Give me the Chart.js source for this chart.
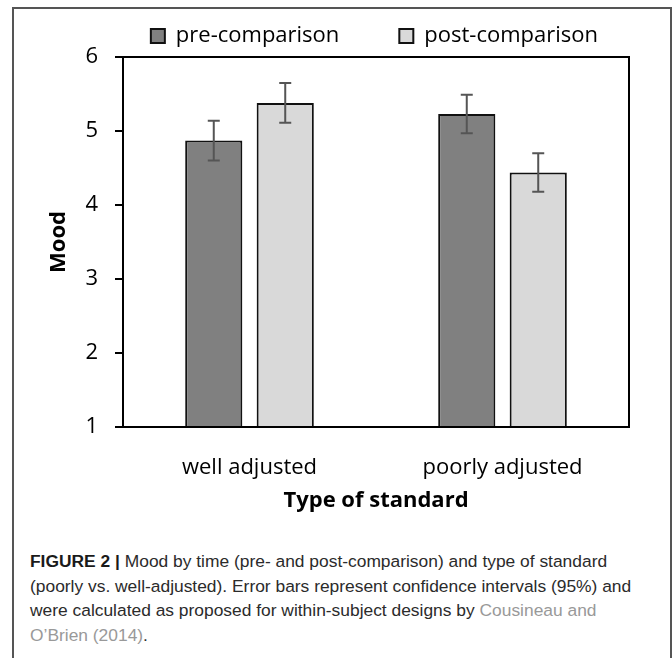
<!DOCTYPE html>
<html>
<head>
<meta charset="utf-8">
<script src="https://cdn.jsdelivr.net/npm/chart.js@4"></script>
<style>
  html, body { margin: 0; padding: 0; width: 672px; height: 658px; overflow: hidden; background: #fff; }
  #frame { position: absolute; left: 12px; top: 7px; width: 656px; height: 700px; border: 2px solid #555; }
  #wrap { position: absolute; left: 0; top: -35px; width: 672px; height: 554px; }
  #caption {
    position: absolute; left: 30px; top: 549px; white-space: nowrap;
    font-family: "Liberation Sans", Arial, sans-serif; font-size: 17.4px; line-height: 24.5px; color: #2b2b2b;
  }
  #caption b { color: #1a1a1a; }
  #caption .ref { color: #999; }
</style>
</head>
<body>
<div id="frame"></div>
<div id="wrap"><canvas id="chart"></canvas></div>
<div id="caption">
  <b>FIGURE 2 |</b> Mood by time (pre- and post-comparison) and type of standard<br>
  (poorly vs. well-adjusted). Error bars represent confidence intervals (95%) and<br>
  were calculated as proposed for within-subject designs by <span class="ref">Cousineau and</span><br>
  <span class="ref">O’Brien (2014)</span>.
</div>
<script>
const categories = ['well adjusted', 'poorly adjusted'];
const seriesNames = ['pre-comparison', 'post-comparison'];
const preMood = [4.87, 5.23];
const postMood = [5.38, 4.44];
const preCI = [0.27, 0.26];
const postCI = [0.27, 0.26];
const yTicks = [1, 2, 3, 4, 5, 6];

const FONT = '"Open Sans", sans-serif';

// error bars drawn from the bar elements and the y scale
const errorBars = {
  id: 'errorBars',
  afterDatasetsDraw(chart) {
    const { ctx, scales: { y } } = chart;
    ctx.save();
    ctx.strokeStyle = '#555';
    ctx.lineWidth = 2;
    chart.data.datasets.forEach((ds, di) => {
      const meta = chart.getDatasetMeta(di);
      meta.data.forEach((bar, i) => {
        const v = ds.data[i], e = ds.ci[i];
        const top = y.getPixelForValue(v + e);
        const bot = y.getPixelForValue(v - e);
        ctx.beginPath();
        ctx.moveTo(bar.x, top); ctx.lineTo(bar.x, bot);
        ctx.moveTo(bar.x - 6, top); ctx.lineTo(bar.x + 6, top);
        ctx.moveTo(bar.x - 6, bot); ctx.lineTo(bar.x + 6, bot);
        ctx.stroke();
      });
    });
    ctx.restore();
  }
};

// box round the plot area
const plotBox = {
  id: 'plotBox',
  afterDatasetsDraw(chart) {
    const { ctx, chartArea: a } = chart;
    ctx.save();
    ctx.strokeStyle = '#000';
    ctx.lineWidth = 2;
    ctx.strokeRect(a.left, a.top, a.right - a.left, a.bottom - a.top);
    ctx.restore();
  }
};

new Chart(document.getElementById('chart'), {
  type: 'bar',
  data: {
    labels: categories,
    datasets: [
      { label: seriesNames[0], data: preMood, ci: preCI, backgroundColor: '#808080', borderColor: '#111', borderWidth: 2, borderSkipped: false },
      { label: seriesNames[1], data: postMood, ci: postCI, backgroundColor: '#d9d9d9', borderColor: '#111', borderWidth: 2, borderSkipped: false }
    ]
  },
  options: {
    responsive: true,
    maintainAspectRatio: false,
    animation: false,
    categoryPercentage: 0.565,
    barPercentage: 0.8,
    layout: { padding: { left: 0, right: 14, top: 0, bottom: 0 } },
    plugins: {
      tooltip: { enabled: false },
      legend: {
        position: 'top',
        align: 'end',
        labels: {
          boxWidth: 14, boxHeight: 14, padding: 60, color: '#000',
          font: { family: FONT, size: 22 }
        }
      }
    },
    scales: {
      x: {
        grid: { display: false },
        border: { display: false },
        ticks: { padding: 20, color: '#000', font: { family: FONT, size: 22 } },
        title: { display: true, text: 'Type of standard', color: '#000', font: { family: FONT, size: 22, weight: 'bold' }, padding: { top: 0, bottom: 5 } },
        afterFit: (s) => { s.height = 92; }
      },
      y: {
        min: yTicks[0],
        max: yTicks[yTicks.length - 1],
        afterBuildTicks: (s) => { s.ticks = yTicks.map(v => ({ value: v })); },
        grid: { drawOnChartArea: false, drawTicks: true, tickLength: 8, tickColor: '#000', lineWidth: 2 },
        border: { display: false },
        ticks: { padding: 17, color: '#000', font: { family: FONT, size: 22 } },
        title: { display: true, text: 'Mood', color: '#000', font: { family: FONT, size: 22, weight: 'bold' }, padding: { top: 46, bottom: 0 } },
        afterFit: (s) => { s.width = 123; }
      },
      yR: {
        position: 'right',
        grid: { display: false },
        border: { display: false },
        ticks: { display: false },
        afterFit: (s) => { s.width = 29; }
      }
    }
  },
  plugins: [errorBars, plotBox]
});
</script>
</body>
</html>
